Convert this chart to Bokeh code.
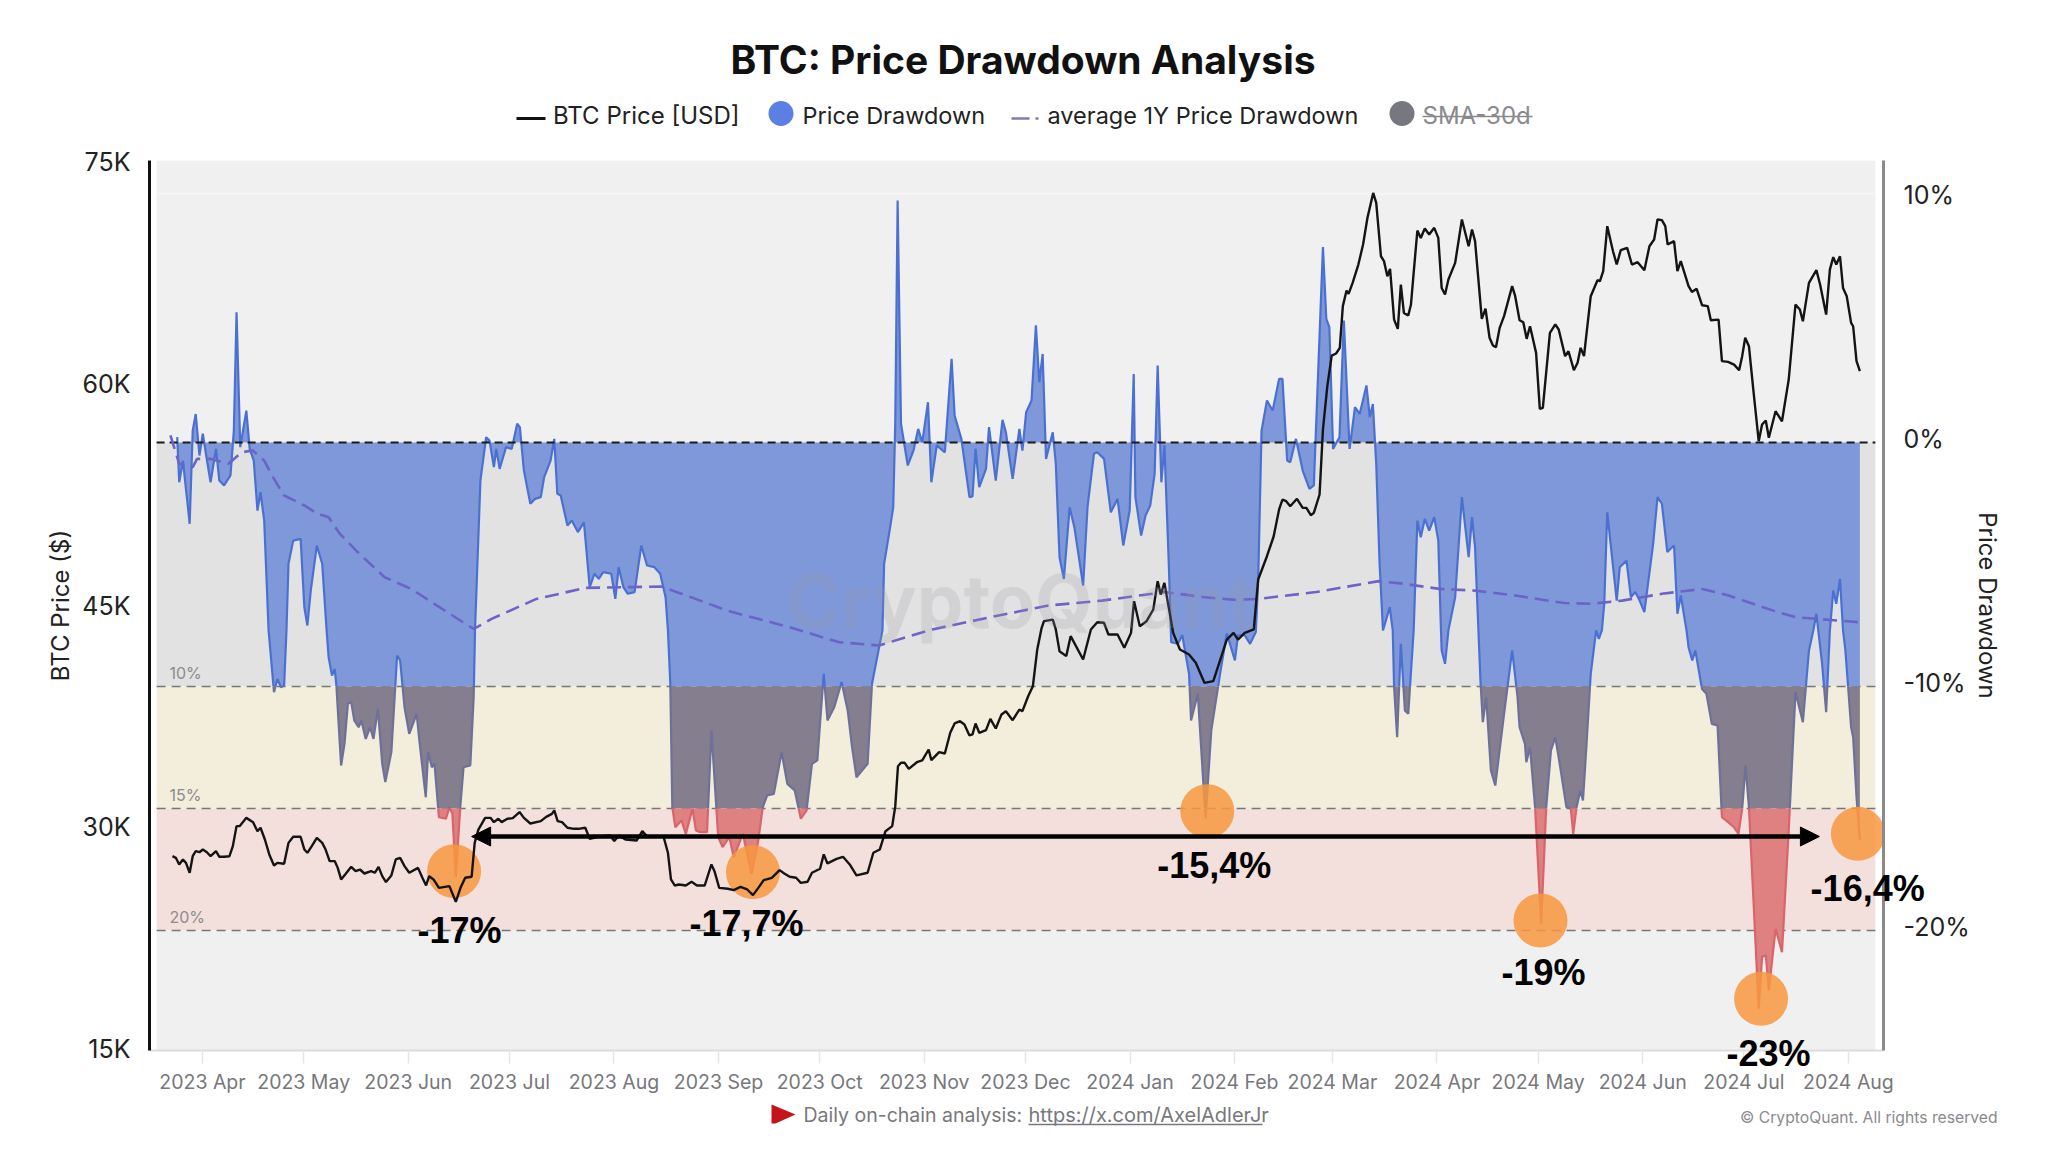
import numpy as np
import pandas as pd
from bokeh.embed import file_html
from bokeh.resources import INLINE
from bokeh.layouts import column
from bokeh.plotting import figure
from bokeh.models import Range1d, LinearAxis, FixedTicker, Arrow, NormalHead
from bokeh.core.properties import value

# ---- data: days since 2023-04-01 ------------------------------------------
month_labels = ["2023 Apr", "2023 May", "2023 Jun", "2023 Jul", "2023 Aug", "2023 Sep", "2023 Oct", "2023 Nov",
                "2023 Dec", "2024 Jan", "2024 Feb", "2024 Mar", "2024 Apr", "2024 May", "2024 Jun", "2024 Jul", "2024 Aug"]
price_ticks = [15, 30, 45, 60, 75]
price_labels = ["15K", "30K", "45K", "60K", "75K"]
dd_ticks = [-19.85, -9.85, 0.15, 10.15]
dd_labels = ["-20%", "-10%", "0%", "10%"]

price_day = [-8.9,-7.9,-6.9,-5.8,-4.9,-3.8,-2.9,-2.0,-0.9,0.1,1.3,2.4,4.0,5.0,6.4,8.0,9.0,10.1,11.0,13.0,15.0,16.3,17.2,18.5,19.8,21.2,22.2,24.2,25.5,26.9,29.1,30.2,31.1,32.4,33.9,35.5,36.5,37.7,39.2,40.1,41.1,42.3,44.1,45.4,46.7,48.0,50.0,51.1,52.2,53.3,54.4,56.0,57.3,58.6,59.9,61.3,63.9,65.2,66.3,67.2,68.5,70.1,73.2,75.1,76.5,77.9,79.8,80.7,81.8,83.8,85.4,86.4,87.7,88.7,90.4,92.0,94.0,95.3,97.2,100.3,101.9,103.6,104.3,105.3,106.6,108.2,110.2,111.5,113.5,114.8,118.1,120.8,122.1,123.4,125.4,128.7,130.4,131.8,136.7,138.0,138.9,140.0,141.3,143.3,145.0,146.6,
148.9,150.9,151.8,153.2,155.8,157.5,159.5,161.5,163.2,164.8,166.4,168.8,171.1,172.5,174.1,176.0,177.4,179.4,180.7,183.1,184.2,185.3,188.0,189.9,191.9,193.9,197.2,198.9,200.8,202.5,204.5,205.4,206.2,207.1,208.2,209.4,211.8,213.4,215.3,216.1,218.4,220.1,221.7,223.0,224.6,225.9,227.4,228.3,229.2,230.3,232.3,233.6,235.2,236.9,238.2,240.2,242.2,243.1,244.8,246.2,247.5,248.8,249.5,252.1,253.0,254.1,256.1,257.4,261.1,263.4,265.3,267.3,268.6,271.3,273.3,275.3,276.2,277.9,279.9,281.9,283.2,284.1,285.2,287.8,289.8,292.5,294.5,297.1,299.7,303.7,305.7,307.0,309.0,311.7,313.0,315.6,317.6,319.2,320.2,321.3,322.5,324.5,326.2,327.3,328.6,329.5,331.2,332.2,333.5,334.8,336.1,337.2,338.1,339.2,339.8,341.0,342.7,344.1,345.4,347.1,348.0,349.4,350.3,351.3,352.1,353.3,354.4,
355.3,356.2,357.5,358.3,359.1,360.2,361.2,362.4,363.7,365.2,366.4,367.4,368.4,369.4,371.4,373.4,375.4,376.4,377.3,379.3,380.4,381.6,382.6,383.5,384.6,385.9,388.3,389.2,390.5,391.6,392.6,393.6,395.4,396.5,397.4,399.5,401.1,402.1,404.0,405.0,406.6,407.7,408.6,409.6,411.6,413.6,414.3,415.3,416.5,418.2,419.3,420.5,422.4,423.8,425.5,427.5,429.0,430.4,431.4,432.7,433.7,434.4,436.3,437.3,438.3,440.6,441.6,443.0,444.6,446.3,447.2,449.5,450.5,452.3,454.1,455.6,456.5,457.4,458.5,459.8,461.4,462.4,463.5,464.4,466.4,468.3,470.3,472.3,473.6,474.5,476.3,478.5,479.6,481.4,482.5,483.5,484.4,485.5,486.4,487.5,488.8,489.4,490.4,491.4]
price_k = [28.06,27.95,27.50,27.84,27.61,26.94,28.06,28.40,28.33,28.51,28.33,28.06,28.40,28.02,28.02,28.06,28.74,30.09,30.09,30.65,30.36,29.75,29.98,29.19,28.18,27.43,27.61,27.55,28.96,29.37,29.37,28.51,28.29,28.74,29.30,28.96,28.51,27.73,27.73,27.27,26.49,26.82,27.34,27.05,27.16,26.89,27.05,26.94,27.34,26.71,26.31,26.76,27.84,27.95,27.39,26.94,27.27,26.60,26.08,26.71,26.49,25.92,26.04,24.98,25.92,26.60,26.67,28.96,29.86,30.65,30.65,30.36,30.59,30.36,30.59,30.63,31.04,30.65,30.27,30.43,30.72,30.92,31.15,30.43,30.36,29.98,29.91,29.91,29.98,29.23,29.41,29.46,29.08,29.46,29.19,29.12,29.75,29.41,29.37,28.29,26.49,26.08,26.15,26.08,26.33,26.08,
26.08,27.50,27.05,25.92,25.86,25.77,25.99,25.81,25.43,25.92,26.44,26.60,27.12,26.89,26.67,26.60,26.26,26.33,26.94,27.21,28.18,27.57,27.88,28.02,27.50,26.76,26.94,28.29,28.51,29.75,30.09,31.44,34.14,34.37,34.37,33.96,34.41,34.53,35.27,34.55,35.09,35.0,36.40,37.03,37.18,36.96,36.22,36.29,37.03,36.40,36.58,37.34,36.69,37.64,37.86,37.25,37.97,37.86,38.87,39.55,42.03,43.49,43.94,44.05,43.38,41.91,41.58,42.93,41.35,43.38,43.87,43.83,43.04,43.04,42.14,43.15,45.29,43.60,43.94,44.73,46.64,45.74,46.53,43.15,42.03,41.69,41.13,39.77,39.89,42.70,43.15,42.70,43.15,43.38,46.76,48.33,49.68,51.49,52.16,52.05,51.71,52.21,51.60,51.60,51.10,51.26,52.50,56.89,59.82,61.89,62.03,62.41,65.23,66.28,66.06,66.80,68.04,69.39,71.20,72.88,72.21,68.60,68.27,67.25,67.75,64.32,63.69,
66.69,64.77,64.59,65.34,67.48,70.34,69.84,70.47,70.07,70.52,69.84,66.46,66.01,67.03,68.15,71.08,69.28,70.41,69.62,64.37,65.05,63.09,62.57,62.45,63.76,64.55,66.58,65.90,64.28,64.14,63.02,63.87,62.07,58.29,58.36,63.42,63.99,63.65,61.85,62.18,60.90,61.40,62.41,61.85,65.90,66.98,66.91,67.59,70.63,68.94,68.04,69.01,69.17,68.04,68.20,67.66,69.28,69.73,71.08,71.04,70.63,69.39,69.62,67.59,68.27,66.58,66.19,66.40,65.29,65.23,64.28,64.32,61.51,61.46,61.28,60.90,61.85,63.09,62.52,59.59,56.10,57.23,57.50,56.33,58.13,57.45,60.27,65.34,65.0,64.21,66.80,67.66,66.69,64.66,67.70,68.54,68.04,68.60,66.46,65.90,64.10,63.87,61.51,60.84]

dd_day = [-7.5,-6.9,-5.8,-3.8,-2.9,-2.0,-0.9,0.1,1.1,2.4,4.0,5.0,6.4,8.3,9.3,10.1,11.2,13.0,14.0,15.2,16.3,17.2,18.3,19.6,21.2,22.2,23.3,24.2,24.9,25.5,26.9,29.1,30.2,31.1,32.1,33.9,35.5,36.8,37.4,38.4,39.2,39.7,41.1,42.1,43.1,44.1,45.0,46.3,47.1,48.4,49.7,50.7,52.0,53.3,54.2,56.0,57.7,58.6,59.9,61.3,63.5,64.3,66.2,66.9,68.0,68.8,70.1,72.2,73.2,74.1,75.1,76.5,77.4,79.4,80.4,80.8,82.4,84.1,85.1,86.4,87.1,88.1,90.0,91.7,93.3,94.1,95.3,97.2,98.6,100.3,101.3,103.2,104.3,105.2,106.2,108.2,109.5,111.3,113.1,114.8,116.2,117.5,118.8,121.2,122.4,123.4,124.8,126.1,128.1,130.1,131.8,134.0,135.7,137.3,138.0,138.7,139.3,140.2,142.0,143.3,145.3,146.3,147.6,
149.6,150.9,152.9,154.2,156.2,157.5,160.2,162.8,164.8,166.1,167.4,169.4,171.7,173.4,175.6,177.4,179.1,180.7,182.3,183.3,184.2,185.3,187.3,189.5,191.3,192.6,193.9,197.2,198.5,201.6,202.1,203.8,204.8,205.4,206.1,207.1,209.1,210.8,212.2,213.4,215.1,216.1,217.7,220.1,222.1,223.0,225.0,227.4,228.3,229.2,230.3,232.3,233.2,235.2,237.2,238.2,240.2,242.2,243.1,244.2,245.8,247.1,248.1,249.1,250.1,252.1,253.0,254.1,255.4,257.1,258.5,261.1,262.4,264.3,265.3,267.3,269.3,271.3,273.0,274.9,276.1,276.6,278.3,279.6,281.0,282.3,283.2,284.3,285.2,286.5,287.2,289.2,290.5,292.5,293.1,295.1,297.4,299.1,301.7,303.7,306.1,307.0,309.0,310.6,312.3,313.0,314.0,315.6,317.3,319.2,320.2,321.6,322.5,324.2,326.2,328.2,329.5,332.2,333.2,334.1,335.2,337.1,338.4,340.1,341.7,343.1,345.1,346.1,347.0,348.0,349.0,350.0,352.0,352.9,353.3,354.2,
355.3,356.5,357.5,359.1,360.2,361.2,362.4,363.7,365.2,366.4,367.2,367.4,368.4,369.4,371.4,373.4,375.4,376.4,377.3,378.3,378.9,379.6,380.6,382.0,383.3,385.9,388.3,389.9,390.5,392.1,392.5,393.6,395.1,396.9,398.4,399.8,401.1,402.4,404.4,405.7,406.4,407.4,408.5,409.3,410.3,411.6,413.2,414.0,414.9,415.6,416.5,417.6,419.3,420.2,422.2,423.5,424.8,426.1,427.5,430.1,431.4,432.7,434.3,436.3,437.3,438.3,440.0,440.6,441.7,442.6,444.6,445.9,447.5,449.2,450.5,452.3,454.1,455.4,456.5,457.5,458.5,459.8,461.4,462.4,463.5,464.4,466.4,468.3,470.3,472.3,474.5,476.3,477.6,478.5,480.2,481.4,482.5,483.5,484.4,485.5,486.4,487.1,488.8,489.4,490.4,491.4]
dd_pct = [0.22,-1.63,-0.74,-3.33,0.49,1.17,-0.53,0.36,-0.53,-1.63,-0.26,-1.56,-1.76,-1.35,0.49,5.34,-0.19,1.31,-0.26,-0.74,-2.79,-2.04,-3.20,-7.70,-10.23,-9.69,-10.03,-9.96,-7.70,-4.97,-4.02,-3.95,-6.75,-7.50,-6.07,-4.22,-4.97,-7.70,-8.80,-9.55,-9.28,-9.96,-13.24,-12.35,-10.71,-10.64,-11.39,-11.67,-11.39,-12.15,-11.67,-12.15,-10.92,-13.17,-13.92,-12.69,-8.73,-8.93,-10.85,-11.94,-11.12,-12.21,-14.54,-12.69,-13.31,-13.17,-15.36,-15.42,-14.95,-15.22,-17.81,-14.81,-13.31,-13.24,-10.44,-7.70,-1.56,0.22,0.08,-1.01,-0.26,-1.08,-0.19,-0.26,0.77,0.63,-1.15,-2.51,-2.31,-2.24,-1.42,-0.74,0.15,-2.10,-2.17,-3.40,-3.20,-3.67,-3.27,-5.93,-5.38,-5.59,-5.31,-5.38,-6.41,-5.11,-5.93,-6.20,-6.13,-4.22,-5.04,-5.11,-5.38,-6.34,-7.70,-9.89,-14.95,-15.77,-15.49,-16.04,-15.01,-15.90,-15.97,
-15.97,-11.80,-16.17,-16.58,-16.17,-17.0,-16.04,-17.68,-16.31,-14.95,-14.47,-14.40,-12.69,-13.99,-14.26,-15.42,-15.08,-13.17,-13.03,-11.12,-9.48,-11.39,-10.85,-9.82,-10.98,-12.49,-13.72,-13.17,-9.89,-7.70,-4.97,-3.54,-2.65,0.83,9.92,0.77,-0.94,-0.33,0.56,0.01,1.65,-1.63,-0.12,-0.40,3.43,1.11,0.15,-2.24,-2.21,-0.26,-1.83,-1.08,0.63,-1.56,0.93,0.42,-1.49,0.56,-0.33,1.24,1.72,4.80,2.47,3.63,-0.67,0.42,-0.87,-4.70,-5.59,-2.65,-3.47,-5.86,-2.65,-0.46,-0.40,-0.67,-2.86,-2.31,-4.22,-2.79,2.81,-2.24,-3.81,-2.99,-2.58,-1.28,3.16,-1.63,-0.12,-4.97,-8.18,-8.25,-7.90,-9.48,-11.39,-10.30,-15.42,-11.80,-9.48,-7.83,-8.93,-7.90,-7.90,-8.25,-7.77,-5.66,0.49,1.72,1.31,2.61,2.61,-0.74,-0.81,0.15,-1.15,-1.90,-1.76,8.01,5.07,4.73,-0.26,0.22,5.00,-0.26,1.45,1.17,2.34,1.04,1.58,-0.87,-4.97,-7.70,-6.75,-7.70,-10.03,-12.08,
-8.25,-10.98,-11.12,-7.70,-3.20,-3.88,-3.13,-3.61,-3.06,-4.02,-7.70,-8.52,-9.07,-7.70,-6.34,-2.24,-4.70,-3.06,-4.29,-7.70,-9.75,-11.46,-10.44,-13.44,-14.06,-11.12,-8.52,-10.44,-11.67,-12.35,-13.10,-12.49,-14.95,-19.73,-14.95,-12.62,-12.08,-13.17,-14.95,-15.01,-16.04,-14.95,-14.26,-14.67,-12.49,-9.48,-7.70,-8.05,-7.70,-6.61,-2.86,-4.29,-6.48,-5.11,-4.84,-6.34,-6.13,-6.48,-6.95,-4.15,-2.24,-2.51,-4.49,-4.22,-7.02,-6.27,-7.70,-8.39,-8.93,-8.52,-10.10,-10.30,-11.53,-11.60,-15.36,-15.56,-15.77,-16.04,-15.01,-13.24,-14.95,-18.63,-23.21,-21.09,-21.02,-22.46,-19.93,-20.89,-15.90,-10.23,-11.46,-8.52,-7.70,-7.02,-9.07,-11.05,-7.70,-6.07,-6.61,-5.59,-7.70,-8.52,-11.67,-12.08,-14.54,-16.31]

avg_day = [-9.5,-6.9,-2.9,-1.6,2.4,7.7,11.6,14.9,18.3,20.9,24.2,30.2,34.1,37.4,40.7,46.0,54.0,61.9,72.5,80.4,85.7,99.0,113.5,136.0,147.6,155.5,174.1,188.6,200.5,216.4,233.6,250.8,266.7,285.2,297.1,306.4,313.0,330.2,348.7,356.2,366.8,377.3,389.2,403.7,411.6,420.9,432.7,444.6,452.5,465.7,472.3,490.8]
avg_pct = [0.29,-0.87,-1.01,-0.67,-0.67,-0.87,-0.40,-0.33,-0.74,-1.42,-2.17,-2.58,-2.92,-3.06,-3.74,-4.49,-5.52,-6.0,-6.95,-7.64,-7.23,-6.41,-5.96,-5.90,-6.48,-6.89,-7.57,-8.18,-8.32,-7.66,-7.16,-6.68,-6.48,-6.13,-6.34,-6.45,-6.41,-6.13,-5.68,-5.79,-6.0,-6.07,-6.27,-6.58,-6.61,-6.48,-6.20,-6.0,-6.27,-6.89,-7.16,-7.36]

marker_day = [74.6, 163.2, 297.9, 396.7, 462.1, 490.8]
marker_pct = [-17.57, -17.61, -15.11, -19.59, -22.80, -16.04]
note_text = ["-17%", "-17,7%", "-15,4%", "-19%", "-23%", "-16,4%"]
note_day = [76.2, 161.3, 300.0, 397.6, 464.3, 493.7]
note_pct = [-20.0, -19.73, -17.34, -21.74, -25.04, -18.26]

level_pct = [-10, -15, -20]
level_names = ["10%", "15%", "20%"]
arrow_day = [79.8, 479.4]
arrow_price = 29.39

# ---- frame -------------------------------------------------------------------
FONT = "Inter"
W, H = 2040, 1145
FL, FR, FT, FB = 149, 1883, 160, 1050     # frame edges in the canvas
XMIN, XMAX = -15.71, 498.4
PMIN, PMAX = 14.93, 75.07
DMIN, DMAX = -24.92, 11.56
BGL, BGR = -13.6, 496.0

base = pd.Timestamp("2023-04-01")
tick_days = [(pd.to_datetime(m, format="%Y %b") - base).days for m in month_labels]

p = figure(width=W, height=H, output_backend="svg", toolbar_location=None,
           x_range=Range1d(XMIN, XMAX), y_range=Range1d(PMIN, PMAX),
           min_border_left=FL, min_border_right=W - FR, min_border_top=FT,
           min_border_bottom=H - FB, outline_line_color=None, background_fill_color="white",
           border_fill_color="white", frame_align=False)
p.xgrid.visible = False
p.ygrid.visible = False
p.extra_y_ranges["dd"] = Range1d(DMIN, DMAX)

# axes
xa = p.xaxis[0]
xa.ticker = FixedTicker(ticks=tick_days)
xa.major_label_overrides = dict(zip(tick_days, month_labels))
xa.axis_line_color = "#dcdcdc"; xa.axis_line_width = 2
xa.major_tick_line_color = "#e6e6e6"; xa.major_tick_line_width = 1.5
xa.major_tick_in = 0; xa.major_tick_out = 13; xa.minor_tick_line_color = None
xa.major_label_text_color = "#77777c"; xa.major_label_text_font = FONT
xa.major_label_text_font_size = "19.5px"; xa.major_label_standoff = 6

ya = p.yaxis[0]
ya.ticker = FixedTicker(ticks=price_ticks)
ya.major_label_overrides = dict(zip(price_ticks, price_labels))
ya.axis_line_color = "#111111"; ya.axis_line_width = 3
ya.major_tick_line_color = None; ya.minor_tick_line_color = None
ya.major_label_text_color = "#222222"; ya.major_label_text_font = FONT
ya.major_label_text_font_size = "25px"; ya.major_label_standoff = 13
ya.axis_label = "BTC Price ($)"; ya.axis_label_text_font = FONT
ya.axis_label_text_font_size = "24px"; ya.axis_label_text_font_style = "normal"
ya.axis_label_text_color = "#222222"; ya.axis_label_standoff = 4

ra = LinearAxis(y_range_name="dd", ticker=FixedTicker(ticks=dd_ticks),
                major_label_overrides=dict(zip(dd_ticks, dd_labels)),
                axis_line_color="#8a8a8a", axis_line_width=3,
                major_tick_line_color=None, minor_tick_line_color=None,
                major_label_text_color="#222222", major_label_text_font=FONT,
                major_label_text_font_size="25px", major_label_standoff=14,
                axis_label="Price Drawdown", axis_label_text_font=FONT,
                axis_label_text_font_size="24px", axis_label_text_font_style="normal",
                axis_label_text_color="#222222", axis_label_standoff=0)
p.add_layout(ra, "right")

# background bands
band_top = [DMAX, 0, -10, -15, -20]
band_bot = [0, -10, -15, -20, DMIN]
band_col = ["#f0f0f1", "#e2e2e3", "#f3eddc", "#f3e0dd", "#f0f0f1"]
p.quad(left=BGL, right=BGR, top=band_top, bottom=band_bot, fill_color=band_col, line_color=None, y_range_name="dd")
p.line([BGL, BGR], [10.2, 10.2], line_color="#f6f6f6", line_width=2, y_range_name="dd")
for lv, nm in zip(level_pct, level_names):
    p.line([BGL, BGR], [lv, lv], line_color="#77777a", line_width=1.5, line_dash="9 6", y_range_name="dd")
    p.text([-9.8], [lv], text=[nm], text_font=value(FONT), text_font_size="16px", text_color="#8c8c8c",
           text_baseline="bottom", y_offset=-3, y_range_name="dd")

# drawdown area, split at the band limits
def with_crossings(xs, ys, levels):
    ox, oy = [xs[0]], [ys[0]]
    for i in range(1, len(xs)):
        a, b = ys[i - 1], ys[i]
        cr = [l for l in levels if (a - l) * (b - l) < 0]
        cr.sort(key=lambda l: (l - a) / (b - a))
        for l in cr:
            ox.append(xs[i - 1] + (xs[i] - xs[i - 1]) * (l - a) / (b - a)); oy.append(l)
        ox.append(xs[i]); oy.append(b)
    return np.array(ox), np.array(oy)

ax, ay = with_crossings(dd_day, dd_pct, [0, -10, -15])
p.varea(ax, np.zeros_like(ay), np.maximum(ay, -10), fill_color="#7f98da", y_range_name="dd")
p.varea(ax, np.full_like(ay, -10.0), np.clip(ay, -15, -10), fill_color="#857e8e", y_range_name="dd")
p.varea(ax, np.full_like(ay, -15.0), np.minimum(ay, -15), fill_color="#df8181", y_range_name="dd")
for lo, hi, col in [(-10, 99, "#4a70d2"), (-15, -10, "#6d7098"), (-99, -15, "#d8646c")]:
    yb = np.where((ay >= lo) & (ay <= hi), ay, np.nan)
    p.line(ax, yb, line_color=col, line_width=2.2, y_range_name="dd")

# zero line and average
p.line([BGL, BGR], [0, 0], line_color="#1a1a1a", line_width=2, line_dash="8 5", y_range_name="dd")
p.line(avg_day, avg_pct, line_color="#6c63c8", line_width=2.6, line_dash="14 7", y_range_name="dd")

# orange markers, price on top
p.scatter(marker_day, marker_pct, size=54, marker="circle", fill_color="#f7983f", fill_alpha=0.85,
          line_color=None, y_range_name="dd")
p.line(price_day, price_k, line_color="#141414", line_width=2.4)

# arrow
p.add_layout(Arrow(x_start=arrow_day[0], y_start=arrow_price, x_end=arrow_day[1], y_end=arrow_price,
                   line_color="black", line_width=4.5,
                   start=NormalHead(size=19, fill_color="black", line_color="black"),
                   end=NormalHead(size=19, fill_color="black", line_color="black")))

# ---- transparent sheet over the whole canvas: title, legend, notes, footer ----
o = figure(width=W, height=H, output_backend="svg", toolbar_location=None,
           x_range=Range1d(0, W), y_range=Range1d(H, 0),
           x_axis_location=None, y_axis_location=None, min_border=0,
           outline_line_color=None, background_fill_color=None, border_fill_color=None,
           margin=(-H, 0, 0, 0), frame_align=False)
o.xgrid.visible = False
o.ygrid.visible = False

def sx(day):
    return FL + (day - XMIN) * (FR - FL) / (XMAX - XMIN)
def sy(pct):
    return FT + (DMAX - pct) * (FB - FT) / (DMAX - DMIN)

def text(x, y, s, size, color, style="normal", align="left", alpha=1.0, font=FONT):
    o.text([x], [y], text=[s], text_font=value(font), text_font_size=size, text_color=color,
           text_font_style=style, text_align=align, text_baseline="middle", text_alpha=alpha)

# watermark
text(1020, 600, "CryptoQuant", "74px", "#9a9aa2", "bold", "center", 0.22)

# notes
for t, d, s in zip(note_day, note_pct, note_text):
    text(sx(t), sy(d), s, "36px", "black", "bold", "center", font="Liberation Sans")

# title and legend
text(1022.5, 59, "BTC: Price Drawdown Analysis", "39px", "#111111", "bold", "center")
o.line([516, 545], [118, 118], line_color="#111111", line_width=3)
text(552.5, 115, "BTC Price [USD]", "24px", "#222222")
o.scatter([780.5], [113], size=25, marker="circle", fill_color="#5b7fe2", line_color=None)
text(802, 115, "Price Drawdown", "23.5px", "#222222")
o.line([1011, 1040], [118, 118], line_color="#7f7bb8", line_width=2.5, line_dash="18 6 3")
text(1047, 115, "average 1Y Price Drawdown", "23.5px", "#222222")
o.scatter([1401.5], [113], size=25, marker="circle", fill_color="#77777f", line_color=None)
text(1422, 115, "SMA-30d", "24px", "#8a8a8e")
o.line([1422, 1532], [116, 116], line_color="#8a8a8e", line_width=1.5)

# footer
o.patch([771, 795, 775, 771], [1104, 1114, 1123, 1123], fill_color="#c3141c", line_color=None)
text(803, 1114, "Daily on-chain analysis:", "19.5px", "#77777c")
text(1028, 1114, "https://x.com/AxelAdlerJr", "20px", "#77777c")
o.line([1028, 1262], [1124, 1124], line_color="#77777c", line_width=1.5)
text(1739.5, 1117, "© CryptoQuant. All rights reserved", "15.7px", "#8a8a8e")

html = file_html(column(p, o, spacing=0), INLINE)
open("out.html", "w").write(html)
